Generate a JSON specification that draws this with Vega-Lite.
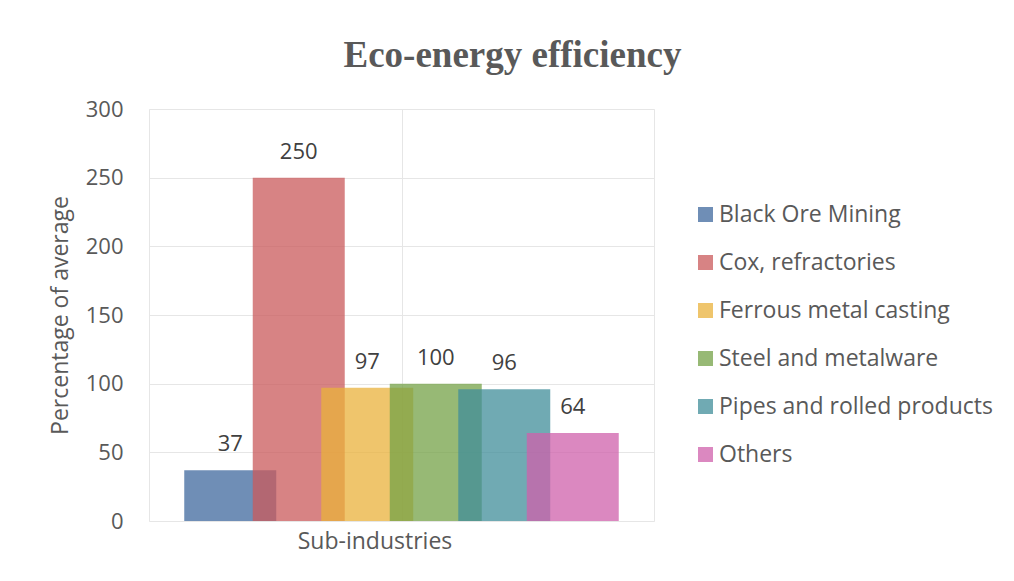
{
  "$schema": "https://vega.github.io/schema/vega-lite/v6.json",
  "autosize": {"type": "none"},
  "width": 505,
  "height": 412,
  "padding": {"left": 149, "top": 109, "right": 360, "bottom": 60},
  "background": "white",
  "title": {
    "text": "Eco-energy efficiency",
    "font": "Liberation Serif",
    "fontSize": 37,
    "fontWeight": "bold",
    "color": "#595959",
    "anchor": "middle",
    "frame": "group",
    "baseline": "alphabetic",
    "offset": 42,
    "dx": 111,
    "dy": 48
  },
  "data": {
    "values": [
      {"group": "Sub-industries", "series": "Black Ore Mining", "value": 37},
      {"group": "Sub-industries", "series": "Cox, refractories", "value": 250},
      {"group": "Sub-industries", "series": "Ferrous metal casting", "value": 97},
      {"group": "Sub-industries", "series": "Steel and metalware", "value": 100},
      {"group": "Sub-industries", "series": "Pipes and rolled products", "value": 96},
      {"group": "Sub-industries", "series": "Others", "value": 64}
    ]
  },
  "encoding": {
    "y": {
      "field": "value",
      "type": "quantitative",
      "title": "Percentage of average",
      "scale": {"domain": [0, 300], "nice": false},
      "axis": {
        "values": [0, 50, 100, 150, 200, 250, 300],
        "grid": true,
        "gridColor": "#e6e6e6",
        "domain": false,
        "ticks": false,
        "labelFont": "Open Sans",
        "labelFontSize": 22,
        "labelColor": "#595959",
        "labelPadding": 26,
        "titleFont": "Open Sans",
        "titleFontSize": 23,
        "titleFontWeight": "normal",
        "titleColor": "#595959",
        "titlePadding": 13
      }
    }
  },
  "layer": [
    {
      "encoding": {
        "x": {
          "field": "series",
          "type": "nominal",
          "sort": ["Black Ore Mining", "Cox, refractories", "Ferrous metal casting", "Steel and metalware", "Pipes and rolled products", "Others"],
          "scale": {"paddingInner": 0, "paddingOuter": 0.686},
          "axis": null
        }
      },
      "layer": [
        {
          "mark": {"type": "bar", "width": {"band": 1.343}, "opacity": 0.75},
          "encoding": {
            "color": {
              "field": "series",
              "type": "nominal",
              "scale": {
                "domain": ["Black Ore Mining", "Cox, refractories", "Ferrous metal casting", "Steel and metalware", "Pipes and rolled products", "Others"],
                "range": ["#3f689e", "#ca5a5b", "#eab23b", "#74a247", "#408e9a", "#cf60ab"]
              },
              "legend": {
                "title": null,
                "orient": "none",
                "legendX": 545,
                "legendY": 94,
                "symbolType": "square",
                "symbolSize": 225,
                "symbolStrokeWidth": 0,
                "symbolOpacity": 0.75,
                "labelFont": "Open Sans",
                "labelFontSize": 23,
                "labelColor": "#595959",
                "labelOffset": 2,
                "labelLimit": 400,
                "rowPadding": 24
              }
            }
          }
        },
        {
          "mark": {
            "type": "text",
            "font": "Open Sans",
            "fontSize": 22,
            "color": "#404040",
            "baseline": "alphabetic",
            "align": "center",
            "dy": -19
          },
          "encoding": {
            "text": {"field": "value", "type": "quantitative"}
          }
        }
      ]
    },
    {
      "mark": {"type": "point", "opacity": 0},
      "encoding": {
        "x": {
          "field": "group",
          "type": "nominal",
          "title": null,
          "scale": {"paddingInner": 0, "paddingOuter": 0},
          "axis": {
            "orient": "bottom",
            "grid": true,
            "bandPosition": 0.5,
            "gridColor": "#e6e6e6",
            "gridWidth": 1,
            "domain": false,
            "ticks": false,
            "labelAngle": 0,
            "labelFont": "Open Sans",
            "labelFontSize": 23,
            "labelColor": "#595959",
            "labelPadding": 9,
            "labelOffset": -27
          }
        }
      }
    }
  ],
  "resolve": {"scale": {"x": "independent"}},
  "config": {
    "view": {"stroke": "#e6e6e6", "strokeWidth": 1}
  }
}
